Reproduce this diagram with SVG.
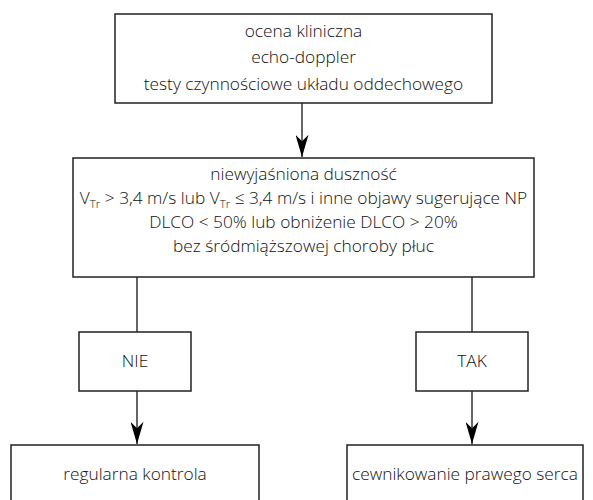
<svg xmlns="http://www.w3.org/2000/svg" width="593" height="500" viewBox="0 0 593 500">
<style>
.box{fill:#fff;stroke:#222;stroke-width:1.5}
.t{font-family:"Open Sans","Liberation Sans",sans-serif;font-size:17.3px;font-weight:300;fill:#111;text-anchor:middle}
.c{fill:none;stroke:#333;stroke-width:1.5}
.s{font-size:11.5px}
</style>
<defs>
<marker id="ah" viewBox="0 0 24 14" refX="24" refY="7" markerWidth="24" markerHeight="13" markerUnits="userSpaceOnUse" orient="auto">
<path d="M0,0 L24,7 L0,14 L7,7 z" fill="#000"/>
</marker>
</defs>
<rect width="593" height="500" fill="#fff"/>
<g id="connectors">
<line class="c" x1="302" y1="103" x2="302" y2="157" marker-end="url(#ah)"/>
<line class="c" x1="137" y1="277" x2="137" y2="332"/>
<line class="c" x1="472" y1="277" x2="472" y2="332"/>
<line class="c" x1="137" y1="391" x2="137" y2="444" marker-end="url(#ah)"/>
<line class="c" x1="472" y1="391" x2="472" y2="444" marker-end="url(#ah)"/>
</g>
<g id="n1">
<rect class="box" x="115" y="14" width="377" height="89"/>
<text class="t" x="303.5" y="37">ocena kliniczna</text>
<text class="t" x="303.5" y="63">echo-doppler</text>
<text class="t" x="303.5" y="90">testy czynnościowe układu oddechowego</text>
</g>
<g id="n2">
<rect class="box" x="73" y="158" width="461" height="119"/>
<text class="t" x="303.5" y="180">niewyjaśniona duszność</text>
<text class="t" x="303.5" y="204">V<tspan class="s" dy="4">Tr</tspan><tspan dy="-4"> &gt; 3,4 m/s lub V</tspan><tspan class="s" dy="4">Tr</tspan><tspan dy="-4"> ≤ 3,4 m/s i inne objawy sugerujące NP</tspan></text>
<text class="t" x="303.5" y="228">DLCO &lt; 50% lub obniżenie DLCO &gt; 20%</text>
<text class="t" x="303.5" y="252">bez śródmiąższowej choroby płuc</text>
</g>
<g id="n3">
<rect class="box" x="79" y="332" width="112" height="59"/>
<text class="t" x="135" y="367">NIE</text>
</g>
<g id="n4">
<rect class="box" x="416" y="332" width="112" height="59"/>
<text class="t" x="472" y="367">TAK</text>
</g>
<g id="n5">
<rect class="box" x="11" y="445" width="248" height="80"/>
<text class="t" x="135" y="480">regularna kontrola</text>
</g>
<g id="n6">
<rect class="box" x="347" y="445" width="236" height="80"/>
<text class="t" x="465" y="480">cewnikowanie prawego serca</text>
</g>
</svg>
